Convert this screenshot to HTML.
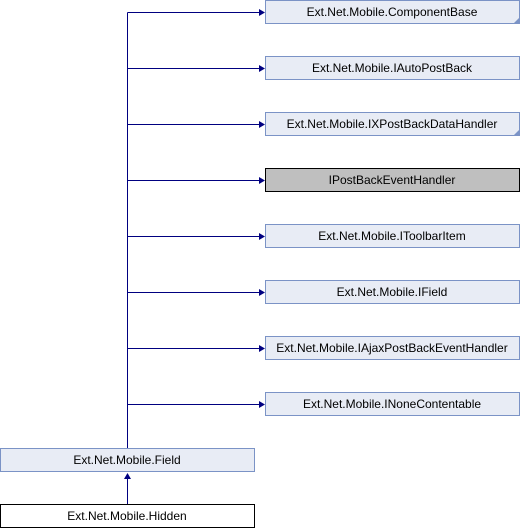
<!DOCTYPE html>
<html><head><meta charset="utf-8"><style>
html,body{margin:0;padding:0;background:#fff;width:520px;height:528px;overflow:hidden}
svg text{font-family:"Liberation Sans",sans-serif;font-size:12px;text-anchor:middle}
</style></head><body>
<svg width="520" height="528" xmlns="http://www.w3.org/2000/svg">
<g stroke="#000080" fill="none" stroke-width="1">
<line x1="127.5" y1="12.5" x2="127.5" y2="449"/>
<line x1="127.5" y1="12.5" x2="259" y2="12.5"/>
<line x1="127.5" y1="68.5" x2="259" y2="68.5"/>
<line x1="127.5" y1="124.5" x2="259" y2="124.5"/>
<line x1="127.5" y1="180.5" x2="259" y2="180.5"/>
<line x1="127.5" y1="236.5" x2="259" y2="236.5"/>
<line x1="127.5" y1="292.5" x2="259" y2="292.5"/>
<line x1="127.5" y1="348.5" x2="259" y2="348.5"/>
<line x1="127.5" y1="404.5" x2="259" y2="404.5"/>
<line x1="127.5" y1="479" x2="127.5" y2="505"/>
</g>
<g fill="#000080">
<polygon points="265,12.5 259,9 259,16"/>
<polygon points="265,68.5 259,65 259,72"/>
<polygon points="265,124.5 259,121 259,128"/>
<polygon points="265,180.5 259,177 259,184"/>
<polygon points="265,236.5 259,233 259,240"/>
<polygon points="265,292.5 259,289 259,296"/>
<polygon points="265,348.5 259,345 259,352"/>
<polygon points="265,404.5 259,401 259,408"/>
<polygon points="127.5,473 124,479 131,479"/>
</g>
<g fill="#e8ecf5" stroke="#7b93c6">
<rect x="265.5" y="0.5" width="254" height="23"/>
<rect x="265.5" y="56.5" width="254" height="23"/>
<rect x="265.5" y="112.5" width="254" height="23"/>
<rect x="265.5" y="224.5" width="254" height="23"/>
<rect x="265.5" y="280.5" width="254" height="23"/>
<rect x="265.5" y="336.5" width="254" height="23"/>
<rect x="265.5" y="392.5" width="254" height="23"/>
<rect x="0.5" y="448.5" width="254" height="23"/>
</g>
<rect x="265.5" y="168.5" width="254" height="23" fill="#bfbfbf" stroke="#000"/>
<rect x="0.5" y="504.5" width="254" height="23" fill="#fff" stroke="#000"/>
<g fill="#7b93c6">
<polygon points="519,18 519,23 514,23"/>
<polygon points="519,130 519,135 514,135"/>
</g>
<g fill="#000">
<text x="392" y="16">Ext.Net.Mobile.ComponentBase</text>
<text x="392" y="72">Ext.Net.Mobile.IAutoPostBack</text>
<text x="392" y="128">Ext.Net.Mobile.IXPostBackDataHandler</text>
<text x="392" y="184">IPostBackEventHandler</text>
<text x="392" y="240">Ext.Net.Mobile.IToolbarItem</text>
<text x="392" y="296">Ext.Net.Mobile.IField</text>
<text x="392" y="352">Ext.Net.Mobile.IAjaxPostBackEventHandler</text>
<text x="392" y="408">Ext.Net.Mobile.INoneContentable</text>
<text x="127" y="464">Ext.Net.Mobile.Field</text>
<text x="127" y="520">Ext.Net.Mobile.Hidden</text>
</g>
</svg>
</body></html>
